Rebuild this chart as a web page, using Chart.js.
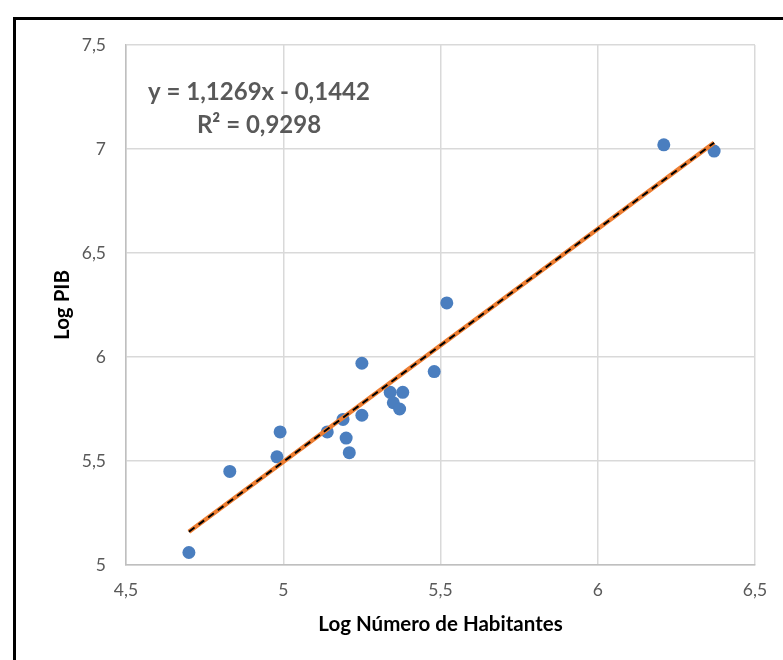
<!DOCTYPE html>
<html>
<head>
<meta charset="utf-8">
<script src="https://cdn.jsdelivr.net/npm/chart.js@4"></script>
<style>
  html, body { margin: 0; padding: 0; background: #fff; overflow: hidden; }
  #frame { position: absolute; left: 13px; top: 17px; width: 900px; height: 800px; border: 3px solid #000; box-sizing: border-box; }
  #wrap { position: absolute; left: 0; top: 0; width: 783px; height: 660px; }
</style>
</head>
<body>
<div id="frame"></div>
<div id="wrap"><canvas id="chart" width="783" height="660"></canvas></div>
<script>
// Log habitantes (x) vs Log PIB (y)
const logHabitantes = [4.70, 4.83, 4.98, 4.99, 5.14, 5.19, 5.20, 5.21, 5.25, 5.25, 5.34, 5.35, 5.38, 5.37, 5.48, 5.52, 6.21, 6.37];
const logPIB        = [5.06, 5.45, 5.52, 5.64, 5.64, 5.70, 5.61, 5.54, 5.97, 5.72, 5.83, 5.78, 5.83, 5.75, 5.93, 6.26, 7.02, 6.99];

// garis tren (ujung-ujungnya)
const trendX = [4.70, 6.37];
const trendY = [5.16, 7.03];

const xTicks = [4.5, 5, 5.5, 6, 6.5];
const yTicks = [5, 5.5, 6, 6.5, 7, 7.5];

const equationText = 'y = 1,1269x - 0,1442';
const r2Text = 'R² = 0,9298';

const FONT = 'Lato, "Open Sans", sans-serif';
const fmt = v => String(v).replace('.', ',');

const equationLabel = {
  id: 'equationLabel',
  afterDatasetsDraw(chart) {
    const ctx = chart.ctx;
    ctx.save();
    ctx.fillStyle = '#595959';
    ctx.font = 'bold 24px ' + FONT;
    ctx.textAlign = 'center';
    ctx.textBaseline = 'middle';
    ctx.fillText(equationText, 259, 92);
    ctx.fillText(r2Text, 259, 125);
    ctx.restore();
  }
};

const trendPoints = trendX.map((x, i) => ({ x, y: trendY[i] }));

new Chart(document.getElementById('chart'), {
  type: 'scatter',
  data: {
    datasets: [
      {
        label: 'Tren hitam',
        data: trendPoints,
        showLine: true,
        borderColor: '#000',
        borderWidth: 2,
        borderDash: [7, 5],
        pointRadius: 0,
        order: 0
      },
      {
        label: 'Tren',
        data: trendPoints,
        showLine: true,
        borderColor: '#ed7d31',
        borderWidth: 4.5,
        pointRadius: 0,
        order: 1
      },
      {
        label: 'Data',
        data: logHabitantes.map((x, i) => ({ x, y: logPIB[i] })),
        backgroundColor: '#4a7ebf',
        borderWidth: 0,
        pointRadius: 6.5,
        order: 2
      }
    ]
  },
  options: {
    responsive: false,
    animation: false,
    layout: { padding: { left: 46, top: 45, right: 28, bottom: 19 } },
    plugins: { legend: { display: false }, tooltip: { enabled: false } },
    scales: {
      x: {
        type: 'linear',
        min: 4.5, max: 6.5,
        afterBuildTicks: s => { s.ticks = xTicks.map(v => ({ value: v })); },
        afterFit: s => { s.height = 76; },
        grid: { color: '#d9d9d9', lineWidth: 1.5, drawTicks: false },
        border: { color: '#bfbfbf', width: 1.5 },
        ticks: { color: '#595959', padding: 15, font: { family: FONT, size: 17.5 }, callback: fmt },
        title: { display: true, text: 'Log Número de Habitantes', color: '#000', font: { family: FONT, size: 20.5, weight: 'bold' } }
      },
      y: {
        type: 'linear',
        min: 5, max: 7.5,
        afterBuildTicks: s => { s.ticks = yTicks.map(v => ({ value: v })); },
        afterFit: s => { s.width = 80; },
        grid: { color: '#d9d9d9', lineWidth: 1.5, drawTicks: false },
        border: { color: '#bfbfbf', width: 1.5 },
        ticks: { color: '#595959', padding: 20, font: { family: FONT, size: 17.5 }, callback: fmt },
        title: { display: true, text: 'Log PIB', color: '#000', font: { family: FONT, size: 20.5, weight: 'bold' } }
      }
    }
  },
  plugins: [equationLabel]
});
</script>
</body>
</html>
